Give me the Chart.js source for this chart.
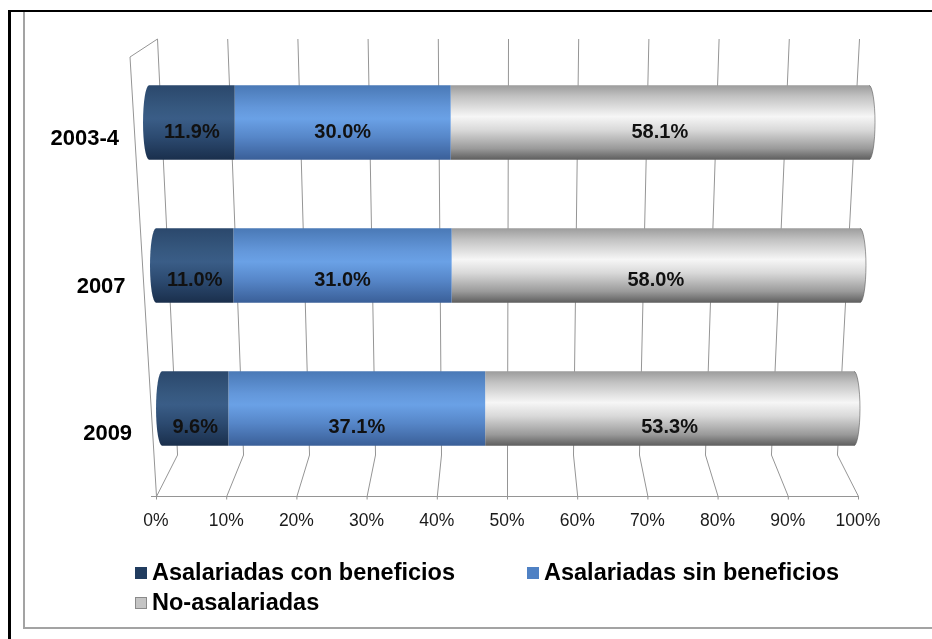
<!DOCTYPE html>
<html>
<head>
<meta charset="utf-8">
<script src="https://cdn.jsdelivr.net/npm/chart.js@4.4.1/dist/chart.umd.min.js"></script>
<style>
  html, body { margin: 0; padding: 0; background: #fff; }
  #wrap { position: relative; width: 932px; height: 639px; overflow: hidden;
          font-family: "Liberation Sans", Arial, sans-serif; }
  .frame-outer { position: absolute; left: 8px; top: 10px; width: 940px; height: 640px;
                 border-left: 3px solid #000; border-top: 2px solid #000; }
  .frame-inner { position: absolute; left: 23px; top: 12px; width: 920px; height: 615px;
                 border-left: 2px solid #a3a3a3; border-bottom: 2px solid #a3a3a3; }
  canvas { position: absolute; left: 0; top: 0; }
  .legend-item { position: absolute; display: flex; align-items: center;
                 font-weight: bold; font-size: 23.5px; color: #000; white-space: nowrap; }
  .legend-item .sw { width: 12px; height: 12px; margin-right: 5px; box-sizing: border-box; }
</style>
</head>
<body>
<div id="wrap">
  <div class="frame-outer"></div>
  <div class="frame-inner"></div>
  <canvas id="chart" width="932" height="639"></canvas>
  <div id="legend"></div>
</div>
<script>
// ---- data ----
const categories = ['2003-4', '2007', '2009'];
const conBeneficios = [11.9, 11.0, 9.6];
const sinBeneficios = [30.0, 31.0, 37.1];
const noAsalariadas = [58.1, 58.0, 53.3];
const seriesNames = ['Asalariadas con beneficios', 'Asalariadas sin beneficios', 'No-asalariadas'];
const tickValues = [0, 10, 20, 30, 40, 50, 60, 70, 80, 90, 100];

// ---- look ----
const FONT = '"Liberation Sans", Arial, sans-serif';
const seriesValues = [conBeneficios, sinBeneficios, noAsalariadas];
const swatchColors = ['#213c5f', '#4f81c4', '#c4c4c4'];
const cylinderStops = [
  [[0, '#2b486c'], [0.3, '#36587f'], [0.45, '#3a5d87'], [0.7, '#2c4a70'], [1, '#1a2f4c']],
  [[0, '#4a79b6'], [0.3, '#6397da'], [0.45, '#6aa1e6'], [0.7, '#5686c8'], [1, '#3a5f98']],
  [[0, '#9c9c9c'], [0.15, '#c2c2c2'], [0.42, '#f6f6f6'], [0.6, '#d9d9d9'], [0.85, '#9a9a9a'], [1, '#5e5e5e']]
];
// depth of each bar row: its own value axis range (perspective)
const rowAxisRange = [[0.97, 98.47], [0.0, 99.72], [-0.87, 100.58]];
const wallTopFactor = 1.0, wallBottomFactor = 0.94;
const capRx = 6;
// front plane projection used for the category and value labels
const frontScaleY = 1.0315, frontShiftY = 12.6, frontSkewX = 0.0441;

// one dataset per series and row, so each row can sit on its own depth axis
const datasets = [];
seriesValues.forEach((vals, s) => {
  categories.forEach((c, r) => {
    datasets.push({
      label: seriesNames[s],
      data: categories.map((_, i) => (i === r ? vals[i] : null)),
      xAxisID: 'xr' + r,
      stack: 'all',
      seriesIndex: s,
      backgroundColor: swatchColors[s],
      clip: false,
      categoryPercentage: 1,
      barPercentage: 0.52
    });
  });
});

const rowScales = {};
rowAxisRange.forEach((rg, r) => {
  rowScales['xr' + r] = { type: 'linear', display: false, stacked: true, min: rg[0], max: rg[1] };
});

// perspective grid: back wall, floor lines, left wall and front axis
const gridPlugin = {
  id: 'perspectiveGrid',
  beforeDatasetsDraw(chart) {
    const { ctx, chartArea } = chart;
    const xs = chart.scales.x;
    const c = (xs.left + xs.right) / 2;
    const topY = chartArea.top - 12;
    const wallBottomY = chartArea.bottom - 25;
    const axisY = chartArea.bottom + 16.5;
    ctx.save();
    ctx.strokeStyle = '#959595';
    ctx.lineWidth = 1;
    tickValues.forEach(v => {
      const xf = xs.getPixelForValue(v);
      const xt = c + (xf - c) * wallTopFactor + 1;
      const xb = c + (xf - c) * wallBottomFactor;
      ctx.beginPath();
      ctx.moveTo(xt + 0.5, topY);
      ctx.lineTo(xb + 0.5, wallBottomY);
      ctx.lineTo(xf + 0.5, axisY);
      ctx.lineTo(xf + 0.5, axisY + 3);
      ctx.stroke();
    });
    // left wall edges
    const x0 = xs.getPixelForValue(0);
    ctx.beginPath();
    ctx.moveTo(x0 + 1.5, topY);
    ctx.lineTo(x0 - 26, topY + 18);
    ctx.lineTo(x0 + 0.5, axisY);
    ctx.stroke();
    // front axis line
    ctx.beginPath();
    ctx.moveTo(x0 - 5, axisY);
    ctx.lineTo(xs.getPixelForValue(100) + 1, axisY);
    ctx.stroke();
    ctx.restore();
  }
};

// cylinder-like bars with rounded ends
const cylinderPlugin = {
  id: 'cylinders',
  beforeDatasetDraw(chart, args) {
    const { ctx } = chart;
    const ds = chart.data.datasets[args.index];
    const s = ds.seriesIndex;
    args.meta.data.forEach((el, i) => {
      if (ds.data[i] === null) return;
      const p = el.getProps(['x', 'base', 'y', 'height'], true);
      const left = Math.min(p.x, p.base), right = Math.max(p.x, p.base);
      const top = p.y - p.height / 2, bottom = p.y + p.height / 2;
      const g = ctx.createLinearGradient(0, top, 0, bottom);
      cylinderStops[s].forEach(st => g.addColorStop(st[0], st[1]));
      ctx.save();
      ctx.beginPath();
      ctx.moveTo(left, top);
      ctx.lineTo(right, top);
      if (s === seriesValues.length - 1) {
        ctx.ellipse(right, p.y, capRx, p.height / 2, 0, -Math.PI / 2, Math.PI / 2);
      } else {
        ctx.lineTo(right, bottom);
      }
      ctx.lineTo(left, bottom);
      if (s === 0) {
        ctx.ellipse(left, p.y, capRx, p.height / 2, 0, Math.PI / 2, Math.PI * 1.5);
      }
      ctx.closePath();
      ctx.fillStyle = g;
      ctx.fill();
      if (s === seriesValues.length - 1) {
        ctx.strokeStyle = 'rgba(80,80,80,0.55)';
        ctx.lineWidth = 1;
        ctx.beginPath();
        ctx.ellipse(right, p.y, capRx, p.height / 2, 0, -Math.PI / 2, Math.PI / 2);
        ctx.stroke();
      }
      ctx.restore();
    });
    return false;
  }
};

// percentage labels on each segment and category names, on the front plane
const labelPlugin = {
  id: 'frontLabels',
  afterDatasetsDraw(chart) {
    const { ctx } = chart;
    const ys = chart.scales.y;
    ctx.save();
    ctx.font = 'bold 20px ' + FONT;
    ctx.fillStyle = '#111';
    ctx.textAlign = 'center';
    ctx.textBaseline = 'middle';
    chart.data.datasets.forEach((ds, di) => {
      const meta = chart.getDatasetMeta(di);
      meta.data.forEach((el, i) => {
        const v = ds.data[i];
        if (v === null) return;
        const p = el.getProps(['x', 'base', 'y'], true);
        ctx.fillText(v.toFixed(1) + '%', (p.x + p.base) / 2, p.y * frontScaleY + frontShiftY - 6);
      });
    });
    ctx.font = 'bold 22px ' + FONT;
    ctx.fillStyle = '#000';
    ctx.textAlign = 'right';
    categories.forEach((cat, i) => {
      const y = ys.getPixelForValue(i);
      const fy = y * frontScaleY + frontShiftY;
      const fx = ys.right - 37 + (fy - 137) * frontSkewX;
      ctx.fillText(cat, fx, fy);
    });
    ctx.restore();
  }
};

const chart = new Chart(document.getElementById('chart'), {
  type: 'bar',
  data: { labels: categories, datasets },
  options: {
    indexAxis: 'y',
    responsive: false,
    animation: false,
    devicePixelRatio: 1,
    layout: { padding: { top: 51, right: 74, bottom: 0, left: 0 } },
    plugins: { legend: { display: false }, tooltip: { enabled: false } },
    scales: Object.assign({
      x: {
        type: 'linear', position: 'bottom', min: 0, max: 100,
        afterBuildTicks(scale) { scale.ticks = tickValues.map(v => ({ value: v })); },
        grid: { display: false, drawTicks: false },
        border: { display: false },
        ticks: {
          callback: v => v + '%',
          font: { family: FONT, size: 17.5 },
          color: '#1a1a1a', padding: 31, maxRotation: 0, autoSkip: false
        },
        afterFit(scale) { scale.height = 159; }
      },
      y: {
        type: 'category', stacked: true, offset: true,
        grid: { display: false, drawTicks: false },
        border: { display: false },
        ticks: { display: false },
        afterFit(scale) { scale.width = 156; }
      }
    }, rowScales)
  },
  plugins: [gridPlugin, cylinderPlugin, labelPlugin]
});

// legend
const legendPos = [[135, 559], [527, 559], [135, 589]];
const legendEl = document.getElementById('legend');
seriesNames.forEach((name, s) => {
  const item = document.createElement('div');
  item.className = 'legend-item';
  item.style.left = legendPos[s][0] + 'px';
  item.style.top = legendPos[s][1] + 'px';
  const sw = document.createElement('span');
  sw.className = 'sw';
  sw.style.background = swatchColors[s];
  if (s === 2) sw.style.border = '1px solid #8a8a8a';
  item.appendChild(sw);
  item.appendChild(document.createTextNode(name));
  legendEl.appendChild(item);
});
</script>
</body>
</html>
